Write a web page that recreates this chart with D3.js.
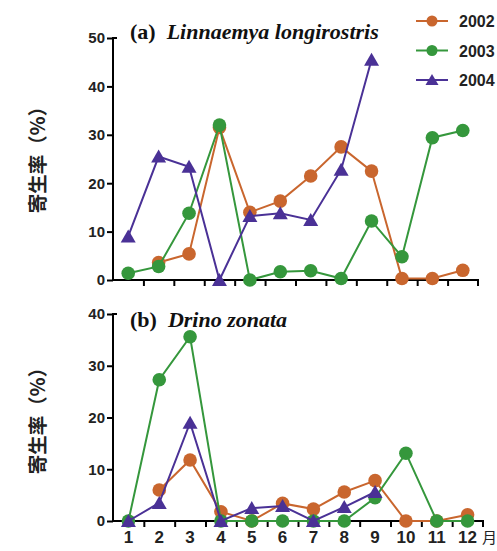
<!DOCTYPE html>
<html>
<head>
<meta charset="utf-8">
<script src="https://cdn.jsdelivr.net/npm/d3@7"></script>
<style>
  body { margin: 0; background: #fff; }
  svg { display: block; }
</style>
</head>
<body>
<svg width="497" height="551"></svg>
<script>
const months = [1,2,3,4,5,6,7,8,9,10,11,12];
const years = ["2002", "2003", "2004"];
const colors = {"2002": "#c9662e", "2003": "#35973c", "2004": "#4a3196"};

// (a) Linnaemya longirostris, null = no data
const a2002 = [null, 3.6, 5.4, 31.5, 14, 16.3, 21.5, 27.5, 22.5, 0.3, 0.3, 2];
const a2003 = [1.4, 2.8, 13.8, 32, 0, 1.7, 1.9, 0.3, 12.2, 4.8, 29.4, 30.9];
const a2004 = [9, 25.5, 23.4, 0, 13.2, 13.8, 12.4, 22.8, 45.5, null, null, null];

// (b) Drino zonata
const b2002 = [null, 6, 11.8, 1.8, 0, 3.4, 2.3, 5.6, 7.8, 0, 0, 1.2];
const b2003 = [0, 27.3, 35.6, 0, 0, 0, 0, 0, 4.5, 13.1, 0, 0];
const b2004 = [0, 3.5, 19, 0, 2.5, 2.9, 0, 2.7, 5.6, null, null, null];

const yTicksA = [0, 10, 20, 30, 40, 50];
const yTicksB = [0, 10, 20, 30, 40];

const svg = d3.select("svg");

function panel(cfg) {
  const x = d3.scaleLinear().domain([0.5, 12.5]).range([113, cfg.xEnd]);
  const y = d3.scaleLinear().domain([0, cfg.yMax]).range([cfg.y0, cfg.yTop]);
  const g = svg.append("g");

  // y axis
  g.append("g")
    .attr("transform", "translate(113,0)")
    .call(d3.axisLeft(y).tickValues(cfg.yTicks).tickSize(6).tickPadding(2))
    .call(s => s.select(".domain").attr("stroke-width", 2).attr("d", `M0,${cfg.y0}V${cfg.yTop}h4`))
    .call(s => s.selectAll(".tick line").attr("stroke-width", 2))
    .call(s => s.selectAll("text")
      .attr("font-family", "Liberation Sans, Arial, sans-serif")
      .attr("font-weight", "bold").attr("font-size", 15).attr("fill", "#222"));

  // x axis, ticks between months
  g.append("g")
    .attr("transform", `translate(0,${cfg.y0})`)
    .call(d3.axisBottom(x).tickValues(d3.range(1.5, 12.5, 1)).tickSize(6).tickFormat(""))
    .call(s => s.select(".domain").attr("stroke-width", 2).attr("d", `M113,0H${cfg.xEnd}v6`))
    .call(s => s.selectAll(".tick line").attr("stroke-width", 2));

  if (cfg.labels) {
    g.selectAll(".mlab").data(months).join("text")
      .attr("x", d => x(d)).attr("y", cfg.y0 + 22)
      .attr("text-anchor", "middle")
      .attr("font-family", "Liberation Sans, Arial, sans-serif")
      .attr("font-weight", "bold").attr("font-size", 17).attr("fill", "#222")
      .text(d => d);
    g.append("text").attr("x", 482).attr("y", cfg.y0 + 22)
      .attr("font-family", "Noto Sans CJK SC").attr("font-size", 15).attr("fill", "#222")
      .text("月");
  }

  // title
  const t = g.append("text").attr("x", 130).attr("y", cfg.titleY)
    .attr("font-family", "Liberation Serif, Times New Roman, serif")
    .attr("font-weight", "bold").attr("font-size", 22).attr("fill", "#111");
  t.append("tspan").text(cfg.tag);
  t.append("tspan").attr("dx", 11).attr("font-style", "italic").text(cfg.name);

  // y label
  g.append("text")
    .attr("transform", `translate(45,${cfg.labelY}) rotate(-90)`)
    .attr("text-anchor", "middle")
    .attr("font-family", "Noto Sans CJK SC").attr("font-weight", "bold")
    .attr("font-size", 19.5).attr("fill", "#222")
    .text("寄生率（%）");

  const line = d3.line().defined(d => d.v !== null).x(d => x(d.m)).y(d => y(d.v));
  cfg.series.forEach((vals, i) => {
    const yr = years[i];
    const pts = vals.map((v, j) => ({m: months[j], v})).filter(d => d.v !== null);
    g.append("path").datum(pts)
      .attr("fill", "none").attr("stroke", colors[yr]).attr("stroke-width", 2)
      .attr("d", line);
    if (yr === "2004") {
      g.selectAll(null).data(pts).join("path")
        .attr("transform", d => `translate(${x(d.m)},${y(d.v)})`)
        .attr("d", "M0,-7L7.5,6H-7.5Z")
        .attr("fill", colors[yr]);
    } else {
      g.selectAll(null).data(pts).join("circle")
        .attr("cx", d => x(d.m)).attr("cy", d => y(d.v)).attr("r", 6.8)
        .attr("fill", colors[yr]);
    }
  });
}

panel({y0: 280, yTop: 38, yMax: 50, yTicks: yTicksA, xEnd: 478, labels: false,
  titleY: 39, tag: "(a)", name: "Linnaemya longirostris", labelY: 155,
  series: [a2002, a2003, a2004]});

panel({y0: 521, yTop: 314, yMax: 40, yTicks: yTicksB, xEnd: 483, labels: true,
  titleY: 327, tag: "(b)", name: "Drino zonata", labelY: 416,
  series: [b2002, b2003, b2004]});

// legend
const leg = svg.append("g");
years.forEach((yr, i) => {
  const ly = 21 + i * 29.5;
  leg.append("line").attr("x1", 416).attr("x2", 448).attr("y1", ly).attr("y2", ly)
    .attr("stroke", colors[yr]).attr("stroke-width", 2);
  if (yr === "2004") {
    leg.append("path").attr("transform", `translate(432,${ly})`)
      .attr("d", "M0,-6L6.5,5H-6.5Z").attr("fill", colors[yr]);
  } else {
    leg.append("circle").attr("cx", 432).attr("cy", ly).attr("r", 5.5).attr("fill", colors[yr]);
  }
  leg.append("text").attr("x", 459).attr("y", ly + 6)
    .attr("font-family", "Liberation Sans, Arial, sans-serif")
    .attr("font-weight", "bold").attr("font-size", 16).attr("fill", "#222")
    .text(yr);
});
</script>
</body>
</html>
